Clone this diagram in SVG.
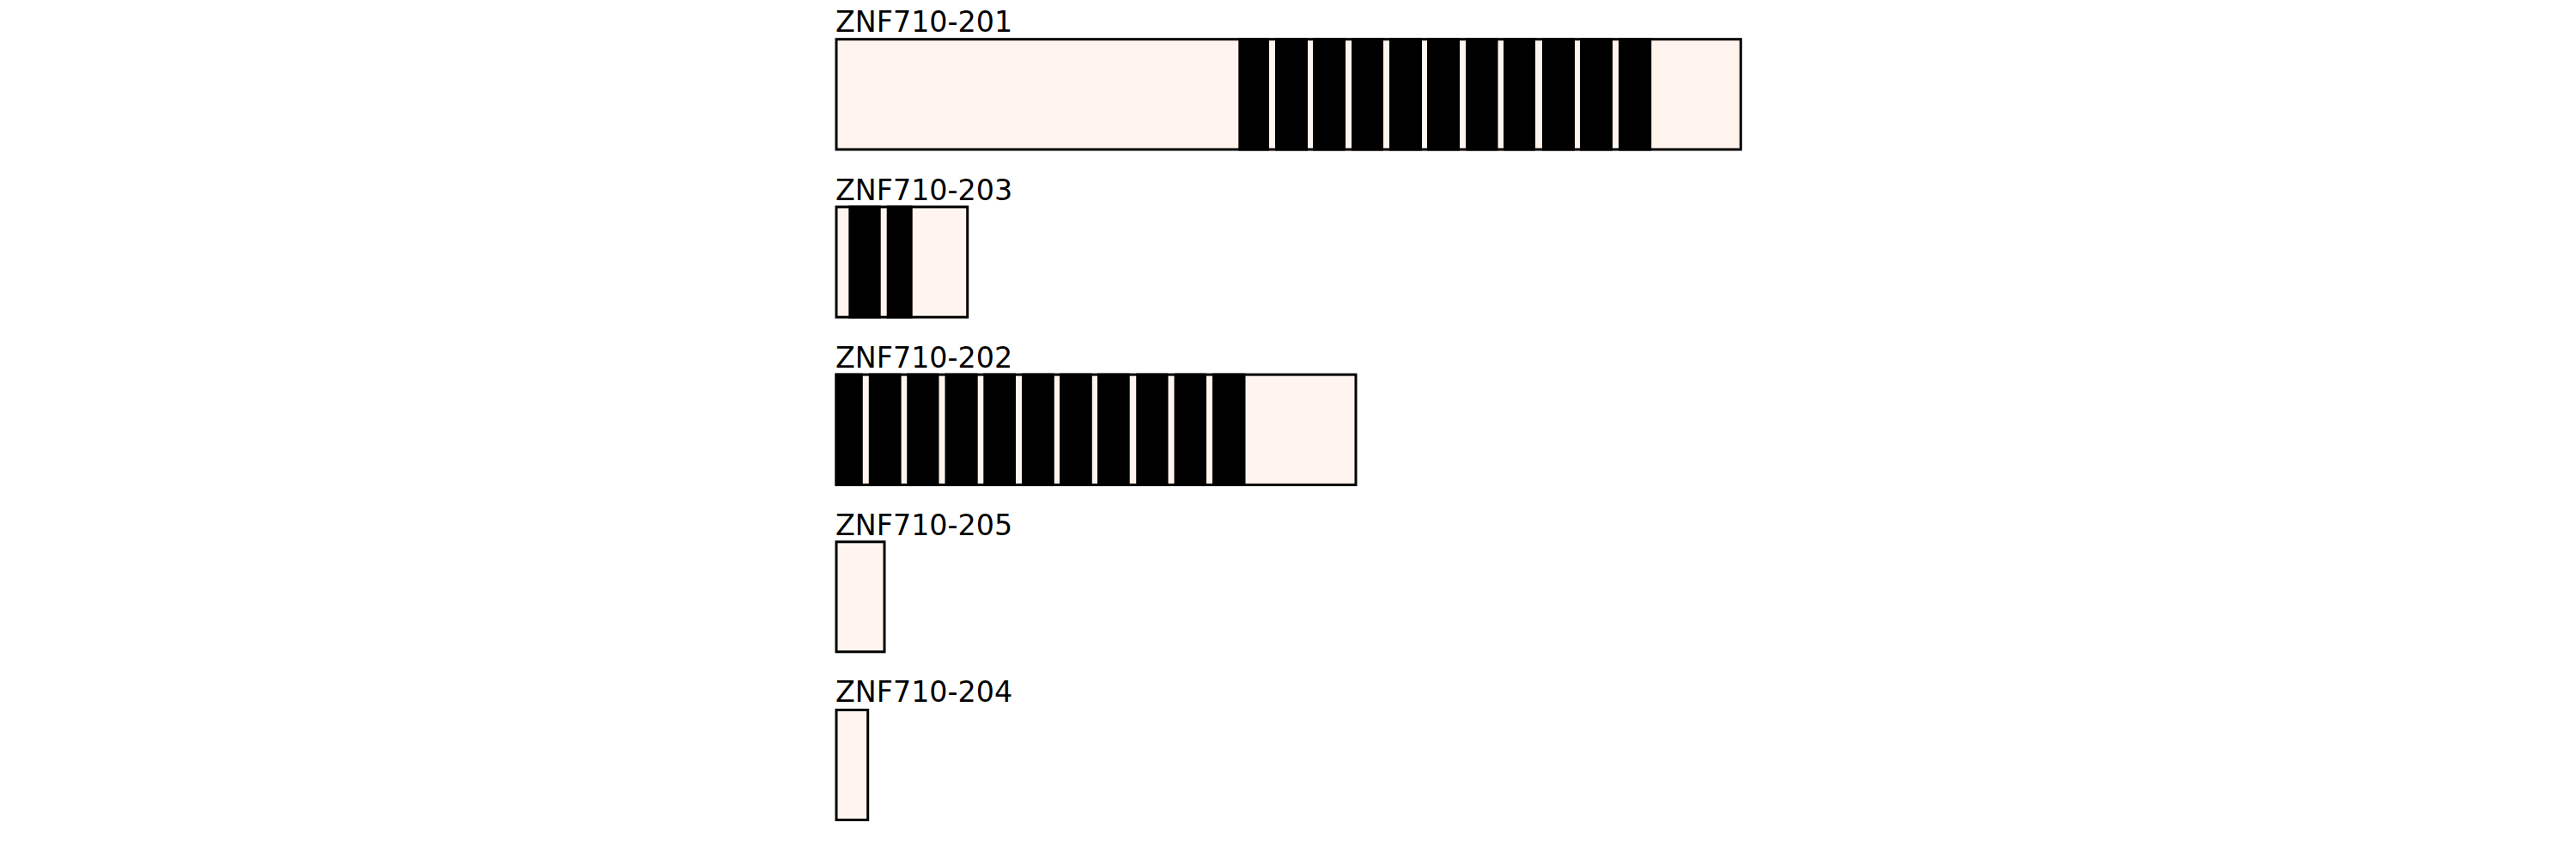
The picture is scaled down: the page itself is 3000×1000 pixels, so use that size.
<svg xmlns="http://www.w3.org/2000/svg" width="3000" height="1000" viewBox="0 0 3000 1000">
<style>
.bg{fill:#ffffff}
.tx{fill:#fff5ee;stroke:#000000;stroke-width:3}
.ex{fill:#000000}
.lb{font-family:"DejaVu Sans","Liberation Sans",sans-serif;font-size:33.33px;fill:#000000}
</style>
<rect class="bg" x="0" y="0" width="3000" height="1000"/>
<g id="ZNF710-201">
<text class="lb" x="973" y="37.3">ZNF710-201</text>
<rect class="tx" x="974" y="45.7" width="1053.3" height="128.3"/>
<rect class="ex" x="1442.3" y="44.2" width="35.7" height="131.3"/>
<rect class="ex" x="1485" y="44.2" width="38" height="131.3"/>
<rect class="ex" x="1529" y="44.2" width="38" height="131.3"/>
<rect class="ex" x="1574" y="44.2" width="37" height="131.3"/>
<rect class="ex" x="1618" y="44.2" width="38" height="131.3"/>
<rect class="ex" x="1662" y="44.2" width="38" height="131.3"/>
<rect class="ex" x="1707" y="44.2" width="37.5" height="131.3"/>
<rect class="ex" x="1751" y="44.2" width="37" height="131.3"/>
<rect class="ex" x="1796" y="44.2" width="38" height="131.3"/>
<rect class="ex" x="1840" y="44.2" width="38" height="131.3"/>
<rect class="ex" x="1885" y="44.2" width="38.2" height="131.3"/>
</g>
<g id="ZNF710-203">
<text class="lb" x="973" y="232.5">ZNF710-203</text>
<rect class="tx" x="974" y="240.9" width="152.7" height="128.3"/>
<rect class="ex" x="988.3" y="239.4" width="37.4" height="131.3"/>
<rect class="ex" x="1032.7" y="239.4" width="30" height="131.3"/>
</g>
<g id="ZNF710-202">
<text class="lb" x="973" y="427.5">ZNF710-202</text>
<rect class="tx" x="974" y="436.1" width="605" height="128.3"/>
<rect class="ex" x="972.5" y="434.6" width="32.3" height="131.3"/>
<rect class="ex" x="1011.8" y="434.6" width="37.8" height="131.3"/>
<rect class="ex" x="1056.2" y="434.6" width="37.3" height="131.3"/>
<rect class="ex" x="1100.5" y="434.6" width="38.2" height="131.3"/>
<rect class="ex" x="1145.3" y="434.6" width="37.7" height="131.3"/>
<rect class="ex" x="1190" y="434.6" width="37.8" height="131.3"/>
<rect class="ex" x="1234" y="434.6" width="37.8" height="131.3"/>
<rect class="ex" x="1278" y="434.6" width="37.7" height="131.3"/>
<rect class="ex" x="1323.2" y="434.6" width="37.3" height="131.3"/>
<rect class="ex" x="1367.5" y="434.6" width="37.4" height="131.3"/>
<rect class="ex" x="1411.9" y="434.6" width="38.6" height="131.3"/>
</g>
<g id="ZNF710-205">
<text class="lb" x="973" y="622.5">ZNF710-205</text>
<rect class="tx" x="974" y="630.8" width="56" height="128"/>
</g>
<g id="ZNF710-204">
<text class="lb" x="973" y="817.3">ZNF710-204</text>
<rect class="tx" x="974" y="826.5" width="36.7" height="128"/>
</g>
</svg>
